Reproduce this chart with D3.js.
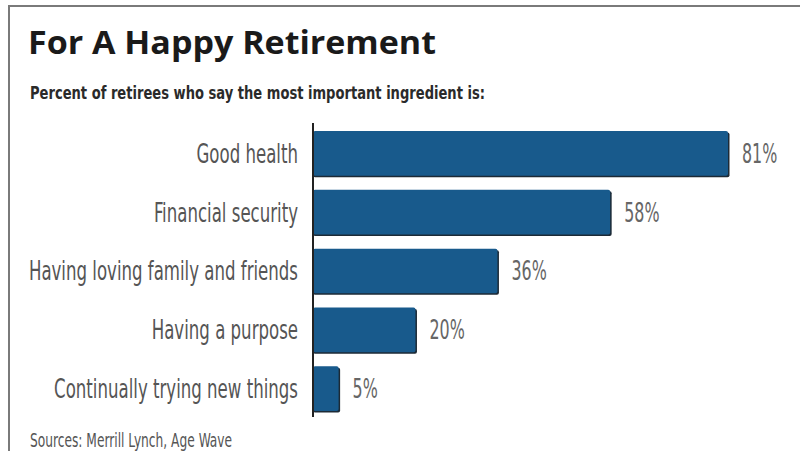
<!DOCTYPE html>
<html>
<head>
<meta charset="utf-8">
<script src="https://cdn.jsdelivr.net/npm/d3@7"></script>
<style>
  body { margin: 0; background: #fff; }
  svg { display: block; }
  .narrow { font-family: "Liberation Sans Narrow", "DejaVu Sans Condensed", "DejaVu Sans", sans-serif; }
</style>
</head>
<body>
<div id="chart"></div>
<script>
// Data
var categories = ["Good health", "Financial security", "Having loving family and friends", "Having a purpose", "Continually trying new things"];
var values = [81, 58, 36, 20, 5];

var svgWidth = 800;
var svgHeight = 451;

var axisX = 313;
var squeeze = 0.71; // condensed look for the labels

var svg = d3.select("#chart").append("svg")
    .attr("width", svgWidth)
    .attr("height", svgHeight);

// frame (top and left edges visible)
svg.append("line").attr("x1", 8).attr("x2", 800).attr("y1", 6).attr("y2", 6)
    .attr("stroke", "#7a7a7a").attr("stroke-width", 2);
svg.append("line").attr("x1", 9).attr("x2", 9).attr("y1", 5).attr("y2", 451)
    .attr("stroke", "#7a7a7a").attr("stroke-width", 2);

// title + subtitle
svg.append("text")
    .attr("x", 28).attr("y", 54)
    .attr("font-family", "'Open Sans', sans-serif")
    .attr("font-weight", 700)
    .attr("font-size", 33)
    .attr("fill", "#1a1a1a")
    .attr("textLength", 408)
    .attr("lengthAdjust", "spacingAndGlyphs")
    .text("For A Happy Retirement");

svg.append("text")
    .attr("class", "narrow")
    .attr("x", 30).attr("y", 99)
    .attr("font-weight", "bold")
    .attr("font-size", 18)
    .attr("fill", "#2a2a2a")
    .attr("textLength", 455)
    .attr("lengthAdjust", "spacingAndGlyphs")
    .text("Percent of retirees who say the most important ingredient is:");

var x = d3.scaleLinear().domain([0, 81]).range([axisX, axisX + 415]);
var y = d3.scaleBand().domain(categories).range([131, 411]).paddingInner(0.24).paddingOuter(0);

var bars = svg.selectAll(".bar")
    .data(values)
    .enter()
    .append("g")
    .attr("class", "bar");

// shadow (dark edge on bottom and right)
bars.append("rect")
    .attr("x", axisX)
    .attr("y", (d, i) => y(categories[i]) + 1.5)
    .attr("width", d => x(d) - axisX + 1.5)
    .attr("height", y.bandwidth())
    .attr("rx", 2)
    .attr("fill", "#1c2a36");

bars.append("rect")
    .attr("x", axisX)
    .attr("y", (d, i) => y(categories[i]))
    .attr("width", d => x(d) - axisX)
    .attr("height", y.bandwidth())
    .attr("rx", 2)
    .attr("fill", "#185a8c");

// value labels
bars.append("text")
    .attr("class", "narrow")
    .attr("transform", (d, i) => `translate(${x(d) + 14}, ${y(categories[i]) + y.bandwidth() / 2}) scale(0.68, 1)`)
    .attr("dy", "0.36em")
    .attr("font-size", 26)
    .attr("fill", "#666")
    .text(d => d + "%");

// category labels
svg.selectAll(".cat")
    .data(categories)
    .enter()
    .append("text")
    .attr("class", "narrow cat")
    .attr("transform", d => `translate(${axisX - 15}, ${y(d) + y.bandwidth() / 2}) scale(${squeeze}, 1)`)
    .attr("dy", "0.36em")
    .attr("text-anchor", "end")
    .attr("font-size", 26)
    .attr("fill", "#555")
    .text(d => d);

// axis line
svg.append("line")
    .attr("x1", axisX).attr("x2", axisX)
    .attr("y1", 123).attr("y2", 417)
    .attr("stroke", "#222")
    .attr("stroke-width", 2);

// source
svg.append("text")
    .attr("class", "narrow")
    .attr("transform", `translate(30, 447) scale(0.68, 1)`)
    .attr("font-size", 20)
    .attr("fill", "#555")
    .text("Sources: Merrill Lynch, Age Wave");
</script>
</body>
</html>
